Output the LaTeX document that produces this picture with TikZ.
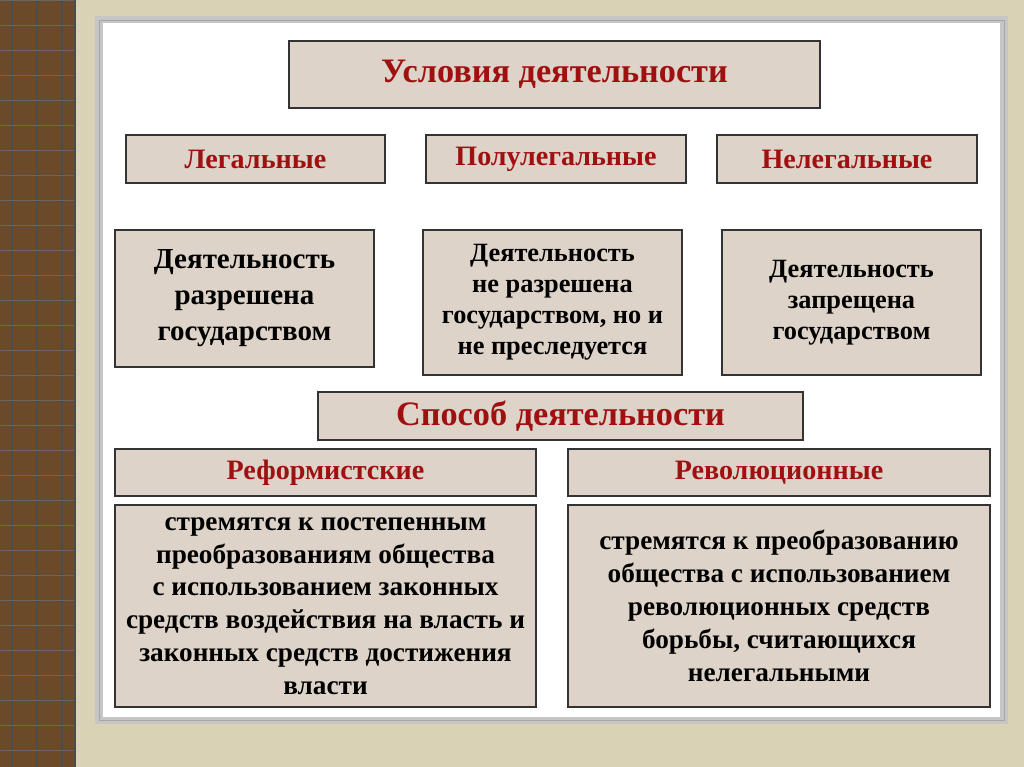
\documentclass[tikz,border=0pt]{standalone}
\usepackage{fontspec}
\setmainfont{Liberation Serif}
\definecolor{bgtex}{HTML}{D9D2B4}
\definecolor{wood}{HTML}{6B4A2A}
\definecolor{boxfill}{HTML}{DDD3C8}
\definecolor{redtxt}{HTML}{A01010}
\tikzset{
  pbox/.style={draw=black!80, fill=boxfill, line width=0.6pt, inner sep=0pt, align=center, font=\bfseries},
  head/.style={pbox, text=redtxt, font=\bfseries\fontsize{16}{18}\selectfont},
  body/.style={pbox, font=\bfseries\fontsize{15.5}{18.7}\selectfont},
}
\begin{document}
\begin{tikzpicture}[x=0.02cm,y=-0.02cm]
\useasboundingbox (0,0) rectangle (1024,767);
\fill[bgtex] (0,0) rectangle (1024,767);
% wooden strip
\fill[wood] (0,0) rectangle (75,767);
\foreach \x in {12,37,62} \draw[black!70, line width=0.8pt] (\x,0) -- (\x,767);
\foreach \y in {0,25,...,767} \draw[black!60, line width=0.5pt] (0,\y) -- (75,\y);
\draw[black!70, line width=1.5pt] (75,0) -- (75,767);
% panel
\fill[gray!45] (95,16) rectangle (1008,724);
\fill[white] (103,23) rectangle (1000,717);
\draw[gray!70] (99,20) rectangle (1004,720);

\node (title) [head, font=\bfseries\fontsize{19.5}{22}\selectfont, minimum width=531*0.02cm, minimum height=67*0.02cm] at (554.5,74.5) {Условия деятельности};
\node (legal) [head, minimum width=259*0.02cm, minimum height=48*0.02cm] at (255.5,159) {Легальные};
\node (semi) [head, minimum width=260*0.02cm, minimum height=48*0.02cm] at (556,159) {Полулегальные};
\node (illegal) [head, minimum width=260*0.02cm, minimum height=48*0.02cm] at (847,159) {Нелегальные};

\node (legaltxt) [body, font=\bfseries\fontsize{16.5}{20.5}\selectfont, minimum width=259*0.02cm, minimum height=137*0.02cm] at (244.5,298.5) {Деятельность\\разрешена\\государством};
\node (semitxt) [body, font=\bfseries\fontsize{15}{17.6}\selectfont, minimum width=259*0.02cm, minimum height=145*0.02cm] at (552.5,302.5) {Деятельность\\не разрешена\\государством, но и\\не преследуется};
\node (illegaltxt) [body, font=\bfseries\fontsize{15}{17.6}\selectfont, minimum width=259*0.02cm, minimum height=145*0.02cm] at (851.5,302.5) {Деятельность\\запрещена\\государством};

\node (method) [head, font=\bfseries\fontsize{19.5}{22}\selectfont, minimum width=485*0.02cm, minimum height=48*0.02cm] at (560.5,416) {Способ деятельности};
\node (reform) [head, minimum width=421*0.02cm, minimum height=47*0.02cm] at (325.5,472.5) {Реформистские};
\node (revol) [head, minimum width=422*0.02cm, minimum height=47*0.02cm] at (779,472.5) {Революционные};

\node (reformtxt) [body, minimum width=421*0.02cm, minimum height=202*0.02cm] at (325.5,606) {стремятся к постепенным\\преобразованиям общества\\с использованием законных\\средств воздействия на власть и\\законных средств достижения\\власти};
\node (revoltxt) [body, minimum width=422*0.02cm, minimum height=202*0.02cm] at (779,606) {стремятся к преобразованию\\общества с использованием\\революционных средств\\борьбы, считающихся\\нелегальными};
\end{tikzpicture}
\end{document}
